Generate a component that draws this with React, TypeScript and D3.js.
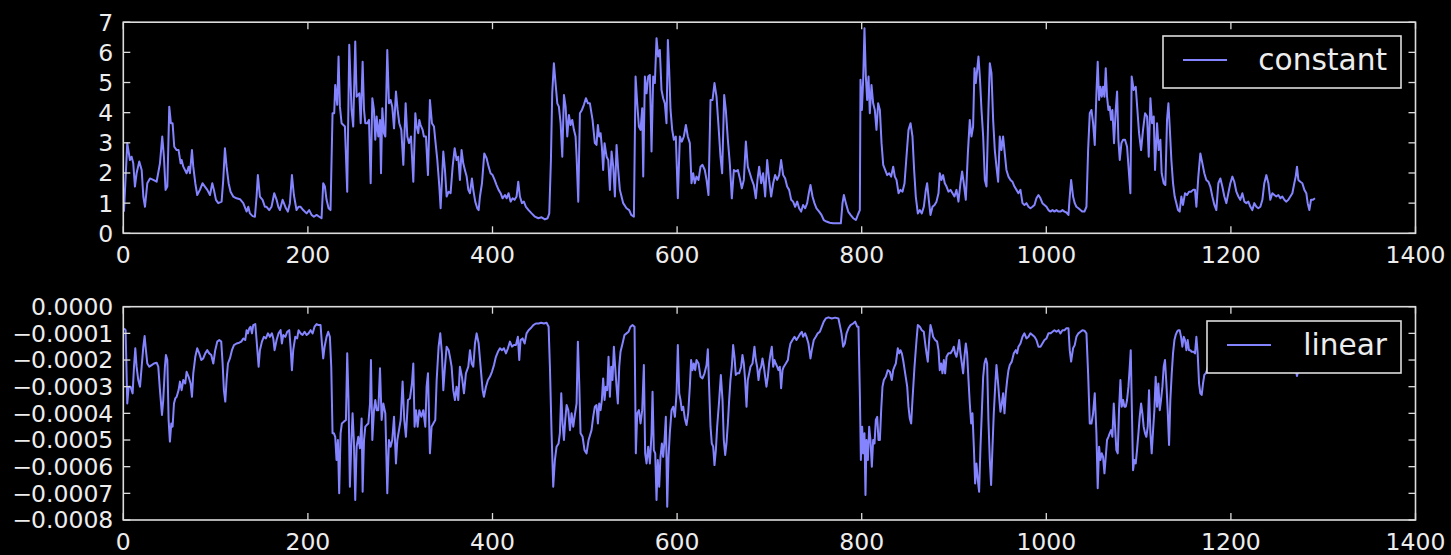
import React, { useEffect } from "react";
import * as d3 from "d3";

// ---- data -------------------------------------------------------------
const xTicks = [0, 200, 400, 600, 800, 1000, 1200, 1400];
const constantTicks = [0, 1, 2, 3, 4, 5, 6, 7];
const linearTicks = [0, -1e-4, -2e-4, -3e-4, -4e-4, -5e-4, -6e-4, -7e-4, -8e-4];
const linearTickLabels = ["0.0000", "\u22120.0001", "\u22120.0002", "\u22120.0003", "\u22120.0004", "\u22120.0005", "\u22120.0006", "\u22120.0007", "\u22120.0008"];

const constantPoints: [number, number][] = [
  [0.7,0.72],[4.3,2.99],[7.2,2.43],[9.0,2.54],[10.8,2.32],[12.6,1.55],[14.4,1.99],[17.3,2.38],[19.9,2.10],[21.7,1.22],[23.5,0.88],[26.0,1.66],[28.9,1.82],[32.5,1.77],[36.1,1.71],[39.7,2.32],[42.2,3.21],[44.0,2.54],[45.8,1.44],[47.7,1.55],[49.8,4.20],[51.6,3.65],[53.4,3.65],[55.2,2.87],[57.8,2.76],[59.9,2.76],[62.1,2.32],[63.2,2.43],[65.0,2.21],[68.6,1.99],[70.8,2.21],[72.2,1.99],[74.4,2.76],[75.8,2.21],[78.0,1.66],[80.1,1.27],[83.0,1.44],[85.9,1.66],[88.4,1.55],[91.0,1.44],[93.9,1.27],[96.4,1.66],[98.2,1.44],[100.4,1.11],[102.9,1.00],[106.5,1.05],[108.3,1.77],[110.1,2.82],[111.9,2.21],[114.1,1.66],[116.2,1.38],[119.1,1.22],[122.7,1.16],[126.4,1.13],[130.0,1.00],[133.6,0.72],[135.4,0.88],[137.2,0.66],[140.1,0.57],[142.6,0.55],[144.4,1.22],[145.8,1.93],[148.0,1.22],[150.9,1.11],[153.4,0.88],[155.2,0.88],[158.1,0.77],[160.6,0.88],[163.5,1.33],[166.1,1.11],[167.9,0.88],[169.7,0.77],[172.6,1.11],[174.0,1.00],[176.2,0.83],[178.3,0.72],[180.5,1.00],[182.7,1.93],[184.8,1.27],[187.7,0.77],[189.9,0.88],[192.1,0.88],[194.9,0.77],[198.6,0.66],[201.4,0.77],[204.0,0.61],[206.5,0.55],[209.4,0.61],[212.3,0.55],[214.8,0.50],[216.6,1.66],[218.4,1.55],[220.2,1.11],[222.4,0.83],[224.5,0.77],[226.7,3.98],[228.5,3.98],[229.6,4.92],[231.8,4.26],[233.2,5.86],[234.7,4.20],[236.5,3.65],[240.1,3.54],[242.6,1.38],[244.8,6.25],[247.3,4.09],[249.1,3.54],[251.3,6.36],
  [252.8,4.53],[255.7,4.64],[257.2,3.65],[259.3,5.69],[260.8,4.09],[262.2,3.65],[264.4,3.65],[266.2,3.76],[268.0,1.66],[269.8,4.48],[271.6,4.09],[273.0,3.10],[274.5,3.87],[276.3,3.21],[278.1,3.76],[279.2,1.99],[280.6,4.15],[282.4,3.32],[283.9,3.21],[286.0,6.08],[287.8,4.31],[289.6,4.42],[291.4,4.20],[293.3,3.48],[295.4,4.70],[297.2,4.09],[299.0,3.65],[301.2,3.43],[303.4,2.27],[305.9,4.31],[307.7,3.21],[309.5,2.99],[311.7,3.21],[314.2,1.71],[316.4,3.98],[317.8,3.54],[319.6,3.32],[320.7,3.76],[322.1,3.59],[324.3,3.43],[325.7,3.21],[327.9,3.21],[330.1,1.93],[332.2,4.42],[334.4,3.65],[336.6,3.54],[338.0,3.10],[340.2,2.43],[342.4,1.55],[343.8,0.83],[346.7,2.71],[348.5,2.10],[350.3,1.22],[352.5,1.38],[354.6,1.33],[356.8,2.21],[359.0,2.82],[361.1,2.43],[362.9,2.54],[364.7,1.77],[366.5,2.76],[368.3,2.32],[370.1,2.10],[372.0,1.88],[373.8,1.44],[375.6,1.33],[377.7,1.82],[379.2,1.44],[381.3,1.05],[383.5,0.83],[385.0,0.77],[386.4,1.22],[388.6,1.66],[391.1,2.65],[393.6,2.49],[395.8,2.21],[397.9,1.99],[400.1,1.93],[402.3,1.77],[404.4,1.60],[406.6,1.44],[408.8,1.33],[410.9,1.16],[413.5,1.27],[415.3,1.16],[417.4,1.33],[419.6,1.05],[421.8,1.16],[423.9,1.11],[426.1,1.22],[427.9,1.71],[429.7,1.22],[431.9,1.00],[434.0,1.05],[436.2,0.88],[439.1,0.77],[442.4,0.66],[446.0,0.55],[449.6,0.50],[453.2,0.53],[456.8,0.46],[459.7,0.50],[461.5,0.66],[463.3,2.43],[464.7,4.64],[466.5,5.64],[468.3,4.98],[470.2,4.31],[471.9,4.20],[473.8,3.65],[475.6,2.54],[477.4,4.59],[479.2,4.20],[481.0,3.21],[482.8,3.92],[484.6,3.59],[486.4,3.76],[488.2,3.43],[490.0,3.21],[491.1,2.54],[492.9,1.05],[494.7,3.98],[496.9,4.09],[499.0,4.26],[501.2,4.48],[503.4,4.31],
  [505.5,4.31],[508.4,3.76],[510.9,2.99],[512.7,2.93],[514.2,3.59],[515.6,3.21],[517.1,3.32],[518.5,2.87],[519.9,2.10],[521.4,2.99],[523.6,2.54],[525.4,2.43],[527.2,1.44],[529.0,2.71],[530.8,2.21],[532.6,1.22],[534.4,2.93],[536.2,2.10],[538.0,1.44],[539.8,1.22],[541.6,1.00],[545.2,0.83],[548.1,0.77],[550.3,0.61],[553.2,0.55],[555.0,5.20],[556.8,4.31],[558.6,3.54],[560.4,3.43],[562.2,4.15],[563.3,1.88],[565.1,5.20],[566.9,4.64],[568.7,5.20],[570.5,5.25],[572.3,2.71],[574.1,5.20],[575.9,4.98],[577.7,6.47],[579.5,5.86],[581.3,6.08],[583.1,4.75],[584.9,4.48],[586.7,4.31],[588.5,3.65],[590.0,6.41],[591.4,5.42],[592.9,4.09],[594.7,3.43],[596.5,3.10],[598.6,3.21],[600.8,1.16],[603.0,3.21],[605.1,3.04],[607.3,3.21],[609.5,3.59],[611.6,3.21],[613.8,2.99],[615.6,1.66],[617.4,1.99],[619.2,1.66],[621.0,1.88],[623.2,1.77],[625.4,2.21],[627.5,2.27],[630.0,2.10],[631.9,1.77],[634.0,1.27],[636.2,4.42],[638.4,4.42],[640.5,4.98],[642.7,4.53],[644.9,3.54],[647.0,2.54],[648.8,1.99],[651.0,4.59],[652.8,4.09],[655.0,3.10],[657.1,2.32],[659.3,1.16],[661.5,2.10],[663.6,2.05],[665.8,2.10],[668.0,1.82],[670.1,1.49],[672.3,1.77],[674.5,3.04],[676.6,2.21],[678.8,1.99],[681.0,1.77],[683.1,1.60],[685.3,1.16],[687.1,1.77],[688.9,2.21],[691.1,1.66],[693.2,1.99],[695.4,1.22],[697.6,2.43],[699.7,1.77],[701.9,1.22],[704.1,1.66],[706.2,1.93],[708.4,1.77],[710.6,1.93],[712.7,2.43],[714.9,1.93],[717.1,1.82],[719.2,1.55],[721.4,1.44],[723.6,1.11],[725.7,1.05],[727.9,0.88],[730.1,1.05],[732.2,0.83],[734.4,0.72],[736.5,0.94],[738.7,0.83],[740.9,1.00],[743.0,1.38],[744.5,1.60],[746.7,1.22],[748.8,1.00],[751.0,0.83],[753.9,0.72],[756.4,0.61],[758.9,0.44],[761.8,0.39],[765.4,0.35],[769.0,0.33],
  [772.7,0.33],[777.4,0.33],[779.2,1.00],[780.7,1.27],[782.8,1.00],[785.4,0.72],[787.9,0.61],[790.8,0.50],[793.7,0.44],[796.2,0.64],[798.0,0.77],[798.7,5.09],[800.2,4.09],[801.6,5.09],[803.0,6.80],[804.5,5.20],[805.9,4.42],[807.4,5.20],[808.8,3.98],[810.6,4.92],[812.4,4.31],[814.2,4.09],[816.0,3.43],[817.8,4.31],[819.7,4.09],[821.5,2.99],[823.3,2.27],[825.4,2.10],[827.6,1.93],[829.8,1.99],[831.9,1.88],[834.1,2.21],[835.9,1.88],[837.7,1.77],[839.9,1.33],[842.0,1.44],[844.2,1.38],[846.4,1.66],[848.5,2.54],[850.7,3.43],[852.9,3.65],[855.0,3.21],[856.8,2.10],[858.6,1.22],[860.8,0.66],[863.0,0.77],[865.1,0.66],[867.3,0.88],[869.5,1.44],[870.9,1.66],[872.7,1.11],[874.5,0.61],[876.7,0.88],[878.9,0.94],[881.0,1.05],[883.2,1.33],[884.6,1.99],[886.4,1.77],[888.2,1.93],[890.0,1.66],[891.9,1.55],[894.0,1.38],[896.2,1.44],[898.4,1.33],[900.5,1.22],[902.7,1.44],[904.8,1.05],[907.0,1.66],[908.8,2.05],[910.6,1.66],[912.8,1.11],[915.0,2.65],[917.1,3.76],[918.9,3.21],[920.7,3.54],[922.2,5.47],[923.6,4.98],[925.1,5.42],[926.5,5.86],[928.0,5.20],[929.8,4.09],[931.6,3.21],[933.4,1.77],[935.2,1.55],[937.3,4.09],[938.8,5.64],[940.6,5.31],[942.4,3.76],[944.2,2.76],[946.0,2.21],[947.8,1.71],[949.6,3.21],[951.4,2.76],[953.2,3.21],[955.0,2.65],[956.8,2.10],[959.0,1.88],[961.2,1.77],[963.3,1.71],[965.5,1.55],[967.7,1.44],[969.8,1.33],[972.0,1.44],[974.2,1.00],[976.3,0.94],[978.5,1.00],[980.7,0.88],[982.8,0.83],[985.0,0.88],[987.2,0.94],[989.3,1.16],[991.5,1.27],[993.7,1.16],[995.8,1.00],[998.0,0.94],[1000.2,0.88],[1002.3,0.77],[1004.5,0.72],[1006.7,0.77],[1008.8,0.72],[1011.0,0.77],[1013.2,0.72],[1015.3,0.72],[1017.5,0.77],[1019.7,0.72],[1021.8,0.69],[1024.0,0.61],[1025.4,1.22],[1026.9,1.77],
  [1029.0,1.22],[1030.8,1.00],[1032.6,0.88],[1034.8,0.83],[1037.0,0.77],[1039.1,0.72],[1041.3,0.72],[1043.5,0.88],[1045.3,2.76],[1047.1,3.98],[1048.9,4.09],[1050.7,3.65],[1052.5,2.93],[1054.3,4.64],[1055.7,5.69],[1057.2,4.42],[1058.6,4.86],[1060.1,4.53],[1061.5,4.86],[1063.0,4.53],[1064.4,5.47],[1065.8,4.53],[1067.3,4.09],[1068.7,4.20],[1070.2,3.76],[1071.6,4.09],[1073.4,2.99],[1075.2,4.09],[1076.7,4.70],[1078.1,3.10],[1079.6,2.43],[1081.4,2.99],[1083.2,3.10],[1085.3,3.10],[1087.5,2.87],[1089.3,2.10],[1091.1,1.33],[1092.5,5.20],[1094.7,4.75],[1096.9,4.86],[1098.7,4.09],[1100.5,3.32],[1102.7,2.76],[1104.8,3.43],[1107.0,3.98],[1109.2,3.87],[1111.0,2.54],[1112.8,4.48],[1114.6,3.65],[1116.4,3.87],[1117.8,2.10],[1120.0,3.65],[1121.8,2.76],[1123.6,3.10],[1125.0,1.99],[1127.2,1.66],[1129.0,1.60],[1130.8,3.76],[1132.3,4.31],[1133.7,3.54],[1135.5,2.43],[1137.3,1.66],[1139.1,1.22],[1140.9,1.00],[1142.7,0.77],[1144.5,0.72],[1146.3,1.22],[1148.1,0.94],[1150.3,1.33],[1152.5,1.27],[1154.6,1.38],[1156.8,1.38],[1159.0,1.44],[1161.1,1.44],[1162.6,0.88],[1164.7,1.88],[1166.9,2.65],[1169.1,2.32],[1171.2,1.99],[1173.4,1.77],[1175.6,1.71],[1177.7,1.55],[1179.9,1.22],[1182.1,0.94],[1184.2,0.77],[1186.4,1.66],[1188.6,1.82],[1190.7,1.55],[1192.9,1.22],[1195.1,1.00],[1197.2,1.33],[1199.4,1.66],[1201.6,1.88],[1203.7,1.71],[1205.9,1.38],[1208.1,1.22],[1210.2,1.11],[1212.4,1.33],[1214.6,1.05],[1216.7,1.00],[1218.9,1.05],[1221.1,0.88],[1223.2,0.77],[1225.4,1.00],[1227.6,0.88],[1229.7,0.83],[1231.9,0.88],[1234.1,1.11],[1236.2,1.66],[1238.4,1.93],[1240.6,1.66],[1242.7,1.11],[1244.9,1.33],[1247.1,1.27],[1249.2,1.22],[1251.4,1.27],[1253.6,1.16],[1255.7,1.22],[1257.9,1.11],[1260.1,1.05],[1262.2,1.11],[1264.4,1.22],[1266.6,1.33],[1268.7,1.66],[1270.2,1.88],[1271.6,2.21],[1273.1,1.77],[1275.2,1.71],[1277.4,1.66],[1279.6,1.44],[1281.7,1.33],[1283.2,1.00],[1285.0,0.77],[1286.8,1.11],[1289.0,1.11],[1291.1,1.16],
];

const linearPoints: [number, number][] = [
  [0.7,-0.81e-4],[2.5,-0.88e-4],[4.3,-3.63e-4],[5.8,-3.00e-4],[7.9,-3.00e-4],[10.1,-3.25e-4],[11.6,-2.25e-4],[13.0,-1.56e-4],[14.4,-2.25e-4],[16.2,-2.75e-4],[18.1,-3.00e-4],[19.9,-2.25e-4],[21.7,-1.50e-4],[23.1,-1.10e-4],[24.5,-1.63e-4],[26.0,-2.13e-4],[28.2,-2.25e-4],[30.7,-2.19e-4],[33.2,-2.13e-4],[36.1,-2.10e-4],[37.9,-2.25e-4],[39.7,-3.13e-4],[41.9,-4.06e-4],[43.3,-3.50e-4],[45.1,-2.25e-4],[46.2,-1.81e-4],[47.7,-2.00e-4],[49.1,-4.25e-4],[50.5,-5.06e-4],[52.0,-4.38e-4],[53.4,-4.50e-4],[54.9,-3.63e-4],[56.3,-3.44e-4],[57.8,-3.38e-4],[59.9,-3.13e-4],[61.4,-2.81e-4],[63.2,-3.13e-4],[65.0,-2.75e-4],[67.1,-2.88e-4],[68.6,-2.44e-4],[70.8,-2.63e-4],[72.9,-2.88e-4],[74.4,-3.38e-4],[75.8,-2.50e-4],[78.0,-1.88e-4],[80.1,-1.56e-4],[82.3,-1.75e-4],[84.5,-2.00e-4],[86.6,-1.94e-4],[88.8,-1.75e-4],[91.0,-1.63e-4],[93.1,-1.75e-4],[95.3,-1.81e-4],[97.5,-2.13e-4],[99.6,-1.63e-4],[101.8,-1.31e-4],[104.0,-1.25e-4],[106.1,-1.31e-4],[107.6,-2.13e-4],[109.0,-3.13e-4],[110.5,-3.56e-4],[111.9,-2.75e-4],[113.4,-2.13e-4],[115.5,-1.94e-4],[117.7,-1.63e-4],[119.9,-1.44e-4],[122.7,-1.38e-4],[125.6,-1.35e-4],[127.8,-1.31e-4],[130.0,-1.19e-4],[132.1,-1.25e-4],[133.6,-0.88e-4],[135.0,-1.00e-4],[136.5,-0.81e-4],[137.9,-0.75e-4],[139.4,-1.00e-4],[140.8,-0.69e-4],[143.0,-0.65e-4],[144.4,-1.25e-4],[146.6,-2.25e-4],[148.0,-1.63e-4],[150.2,-1.31e-4],[152.3,-1.13e-4],[154.5,-1.19e-4],[156.7,-1.00e-4],[158.8,-1.13e-4],[161.0,-1.00e-4],[162.5,-1.19e-4],[163.9,-1.63e-4],[166.1,-1.25e-4],[168.2,-1.00e-4],[170.4,-0.88e-4],[171.8,-1.38e-4],[173.3,-1.06e-4],[175.5,-1.13e-4],[177.6,-0.94e-4],[179.8,-0.88e-4],[181.2,-1.50e-4],[182.7,-2.38e-4],[184.1,-1.63e-4],[186.3,-1.13e-4],[188.4,-1.19e-4],[189.9,-0.88e-4],[192.1,-1.00e-4],[194.2,-1.06e-4],[196.4,-0.94e-4],[198.6,-1.06e-4],[200.7,-1.00e-4],[202.9,-0.88e-4],[205.1,-1.00e-4],[207.2,-0.75e-4],[209.4,-0.65e-4],[211.6,-0.69e-4],[213.7,-0.69e-4],[215.2,-1.38e-4],[216.6,-1.94e-4],[218.1,-1.50e-4],[220.2,-1.13e-4],[222.0,-0.94e-4],[223.8,-1.13e-4],[225.3,-2.25e-4],[226.7,-4.75e-4],[228.2,-4.75e-4],[229.6,-4.88e-4],[231.0,-5.75e-4],[232.5,-5.00e-4],[233.9,-7.00e-4],[235.4,-4.75e-4],[236.8,-4.38e-4],[239.0,-4.31e-4],[241.2,-4.25e-4],[242.6,-1.75e-4],[244.0,-3.50e-4],[245.5,-6.75e-4],[246.9,-5.25e-4],[248.4,-4.00e-4],[249.8,-5.00e-4],[251.3,-7.25e-4],
  [252.8,-5.25e-4],[254.6,-4.88e-4],[256.4,-5.31e-4],[258.2,-4.19e-4],[259.3,-6.94e-4],[260.8,-5.00e-4],[262.2,-4.50e-4],[263.7,-4.44e-4],[265.5,-4.38e-4],[267.3,-3.63e-4],[268.3,-2.00e-4],[269.8,-5.00e-4],[271.6,-3.88e-4],[273.0,-3.50e-4],[274.5,-3.88e-4],[276.3,-3.88e-4],[278.1,-2.31e-4],[279.9,-4.25e-4],[281.7,-3.63e-4],[283.9,-4.00e-4],[286.0,-7.00e-4],[287.8,-5.00e-4],[289.6,-5.25e-4],[291.4,-5.00e-4],[293.3,-4.13e-4],[295.4,-5.88e-4],[296.9,-5.00e-4],[298.7,-4.63e-4],[300.5,-4.25e-4],[302.6,-2.81e-4],[304.4,-4.25e-4],[306.2,-4.88e-4],[308.4,-3.50e-4],[310.6,-3.44e-4],[312.7,-2.88e-4],[314.2,-2.13e-4],[315.6,-4.50e-4],[317.1,-3.88e-4],[318.9,-4.50e-4],[320.7,-3.88e-4],[322.9,-4.13e-4],[325.0,-3.88e-4],[327.2,-4.50e-4],[328.6,-3.00e-4],[330.1,-2.50e-4],[332.2,-5.50e-4],[334.0,-4.50e-4],[335.9,-4.38e-4],[338.0,-4.25e-4],[339.5,-2.75e-4],[341.6,-1.50e-4],[343.4,-1.00e-4],[345.2,-1.75e-4],[346.7,-3.13e-4],[348.5,-2.25e-4],[350.3,-1.50e-4],[352.5,-1.63e-4],[353.9,-1.88e-4],[355.7,-2.25e-4],[357.5,-3.13e-4],[359.3,-3.50e-4],[361.1,-3.00e-4],[362.9,-3.50e-4],[364.7,-2.25e-4],[366.9,-2.63e-4],[369.1,-3.25e-4],[371.2,-2.50e-4],[373.8,-2.25e-4],[375.6,-1.63e-4],[377.4,-2.13e-4],[379.2,-2.25e-4],[381.0,-1.38e-4],[382.8,-1.00e-4],[385.0,-1.38e-4],[387.1,-2.25e-4],[389.3,-3.13e-4],[390.7,-3.38e-4],[392.9,-3.00e-4],[395.1,-2.75e-4],[397.2,-2.63e-4],[399.4,-2.44e-4],[401.6,-2.19e-4],[403.7,-1.88e-4],[405.9,-1.69e-4],[408.1,-1.56e-4],[410.2,-1.63e-4],[412.4,-1.56e-4],[414.6,-1.75e-4],[416.7,-1.56e-4],[418.9,-1.31e-4],[421.1,-1.50e-4],[423.2,-1.44e-4],[425.4,-1.44e-4],[427.5,-1.13e-4],[429.0,-2.00e-4],[430.4,-1.25e-4],[432.6,-1.19e-4],[434.8,-1.38e-4],[436.9,-1.00e-4],[439.1,-0.88e-4],[441.3,-0.81e-4],[444.2,-0.69e-4],[447.0,-0.63e-4],[449.9,-0.63e-4],[452.8,-0.60e-4],[455.7,-0.63e-4],[458.6,-0.60e-4],[460.8,-0.75e-4],[462.2,-2.25e-4],[464.0,-4.75e-4],[465.8,-6.75e-4],[467.6,-5.75e-4],[469.4,-5.25e-4],[471.6,-5.13e-4],[473.0,-4.75e-4],[474.5,-3.25e-4],[475.9,-4.38e-4],[477.4,-5.00e-4],[478.8,-4.25e-4],[480.3,-3.69e-4],[482.1,-3.88e-4],[483.9,-4.63e-4],[485.7,-4.00e-4],[487.5,-4.50e-4],[488.9,-4.13e-4],[491.1,-3.63e-4],[492.5,-1.31e-4],[494.0,-2.88e-4],[495.4,-4.75e-4],[497.6,-4.88e-4],[499.7,-5.38e-4],[501.9,-5.50e-4],[504.1,-5.00e-4],
  [507.3,-4.63e-4],[509.1,-4.13e-4],[510.9,-3.75e-4],[512.7,-3.69e-4],[514.2,-4.38e-4],[515.6,-3.63e-4],[517.1,-3.88e-4],[518.5,-3.50e-4],[519.9,-2.69e-4],[521.4,-3.50e-4],[522.8,-3.00e-4],[524.3,-3.13e-4],[525.7,-1.88e-4],[527.2,-3.38e-4],[528.6,-2.25e-4],[530.0,-2.75e-4],[531.5,-1.50e-4],[532.9,-2.25e-4],[534.4,-3.00e-4],[535.8,-3.63e-4],[537.3,-2.25e-4],[538.7,-1.69e-4],[540.9,-1.38e-4],[543.0,-1.06e-4],[545.2,-1.00e-4],[547.4,-0.94e-4],[549.5,-0.75e-4],[551.7,-0.69e-4],[553.9,-0.75e-4],[555.3,-5.50e-4],[556.8,-4.00e-4],[558.6,-3.88e-4],[560.4,-4.38e-4],[562.2,-3.88e-4],[564.0,-2.19e-4],[565.4,-5.50e-4],[566.9,-5.88e-4],[568.7,-5.25e-4],[570.5,-5.88e-4],[572.3,-4.75e-4],[573.4,-3.19e-4],[574.8,-5.38e-4],[576.3,-5.50e-4],[577.7,-7.25e-4],[579.1,-5.75e-4],[580.6,-6.75e-4],[582.0,-5.63e-4],[583.5,-5.13e-4],[584.9,-5.63e-4],[586.4,-5.00e-4],[587.8,-4.13e-4],[589.3,-7.50e-4],[590.7,-5.63e-4],[592.1,-4.75e-4],[594.0,-3.88e-4],[595.8,-3.75e-4],[597.6,-4.13e-4],[599.4,-3.25e-4],[600.8,-1.44e-4],[602.3,-3.25e-4],[603.7,-3.50e-4],[605.1,-3.88e-4],[606.6,-3.75e-4],[608.4,-4.19e-4],[610.2,-4.44e-4],[612.0,-4.00e-4],[613.8,-3.00e-4],[615.2,-2.00e-4],[616.7,-2.38e-4],[618.1,-2.13e-4],[619.6,-2.38e-4],[621.0,-2.00e-4],[623.2,-2.13e-4],[625.4,-2.63e-4],[627.5,-2.69e-4],[629.7,-2.50e-4],[631.9,-2.19e-4],[633.3,-1.60e-4],[634.7,-3.00e-4],[636.2,-4.50e-4],[637.6,-5.13e-4],[639.1,-5.25e-4],[640.5,-5.94e-4],[642.0,-5.38e-4],[643.4,-4.50e-4],[645.6,-3.50e-4],[647.4,-2.56e-4],[649.2,-3.50e-4],[650.6,-5.00e-4],[652.1,-5.56e-4],[653.5,-5.13e-4],[655.0,-4.38e-4],[656.4,-3.50e-4],[657.8,-2.75e-4],[659.3,-2.25e-4],[660.7,-1.44e-4],[662.2,-1.88e-4],[663.6,-2.56e-4],[665.1,-2.50e-4],[667.2,-2.50e-4],[669.4,-2.25e-4],[670.8,-1.81e-4],[672.3,-2.13e-4],[673.7,-2.75e-4],[675.2,-3.75e-4],[676.6,-2.75e-4],[678.1,-2.50e-4],[679.5,-2.25e-4],[681.7,-2.13e-4],[683.8,-1.50e-4],[685.3,-2.00e-4],[686.7,-2.25e-4],[688.2,-2.75e-4],[689.6,-2.38e-4],[691.1,-2.25e-4],[692.5,-1.94e-4],[694.0,-2.25e-4],[695.4,-2.63e-4],[696.8,-3.00e-4],[698.3,-2.63e-4],[699.7,-2.13e-4],[701.2,-1.75e-4],[702.6,-1.50e-4],[704.1,-2.25e-4],[705.5,-2.00e-4],[706.9,-2.13e-4],[708.4,-2.25e-4],[709.8,-2.38e-4],[711.3,-2.25e-4],[712.7,-3.06e-4],[714.2,-2.38e-4],[715.6,-2.25e-4],[717.8,-2.13e-4],[720.0,-2.00e-4],[721.4,-1.63e-4],[722.8,-1.38e-4],[725.0,-1.25e-4],[727.2,-1.13e-4],[729.3,-1.25e-4],[731.5,-1.13e-4],[733.7,-1.00e-4],[735.1,-0.94e-4],[736.5,-1.13e-4],[738.7,-1.00e-4],[740.2,-1.13e-4],[742.3,-1.38e-4],[744.5,-1.94e-4],[745.9,-1.63e-4],[748.1,-1.25e-4],[750.3,-1.13e-4],[752.4,-1.00e-4],[754.6,-0.94e-4],[756.8,-0.75e-4],[758.9,-0.56e-4],[761.1,-0.44e-4],[764.0,-0.40e-4],[767.6,-0.44e-4],[771.2,-0.41e-4],[774.8,-0.44e-4],
  [778.1,-1.00e-4],[779.9,-1.50e-4],[781.7,-1.38e-4],[783.6,-1.00e-4],[785.7,-0.81e-4],[787.9,-0.69e-4],[790.8,-0.63e-4],[792.9,-0.56e-4],[795.1,-0.75e-4],[796.5,-0.75e-4],[798.0,-3.25e-4],[799.1,-5.75e-4],[800.5,-4.50e-4],[801.6,-5.50e-4],[803.0,-4.75e-4],[804.1,-7.06e-4],[805.2,-5.00e-4],[806.7,-5.75e-4],[808.1,-4.50e-4],[809.5,-5.00e-4],[811.0,-6.00e-4],[812.4,-5.00e-4],[813.9,-5.13e-4],[815.3,-4.25e-4],[816.8,-4.13e-4],[818.2,-5.00e-4],[819.7,-5.00e-4],[821.1,-3.88e-4],[822.5,-3.00e-4],[824.0,-2.75e-4],[826.1,-2.63e-4],[828.3,-2.38e-4],[830.5,-2.44e-4],[832.6,-2.75e-4],[834.1,-2.38e-4],[835.5,-2.25e-4],[837.0,-2.13e-4],[839.1,-1.56e-4],[840.6,-1.75e-4],[842.0,-1.63e-4],[843.5,-1.75e-4],[844.9,-2.00e-4],[847.1,-2.50e-4],[849.3,-3.00e-4],[850.7,-3.75e-4],[852.1,-4.19e-4],[853.6,-4.38e-4],[855.0,-3.50e-4],[857.2,-2.25e-4],[859.4,-1.25e-4],[860.8,-0.69e-4],[863.0,-0.75e-4],[865.1,-0.88e-4],[867.3,-0.94e-4],[868.8,-1.38e-4],[870.2,-1.75e-4],[871.6,-2.06e-4],[873.1,-1.25e-4],[874.5,-0.69e-4],[876.0,-0.88e-4],[877.4,-1.13e-4],[879.6,-1.25e-4],[881.7,-1.31e-4],[883.2,-1.63e-4],[884.6,-2.38e-4],[886.1,-2.13e-4],[887.5,-2.50e-4],[889.0,-2.00e-4],[890.4,-2.50e-4],[891.9,-1.88e-4],[894.0,-1.75e-4],[896.2,-1.75e-4],[898.4,-1.63e-4],[899.8,-1.50e-4],[901.2,-1.75e-4],[902.7,-1.88e-4],[904.1,-1.63e-4],[905.6,-1.25e-4],[907.0,-1.75e-4],[908.5,-2.13e-4],[909.9,-2.50e-4],[911.3,-1.88e-4],[912.8,-1.38e-4],[914.2,-1.75e-4],[915.7,-2.75e-4],[917.1,-3.63e-4],[918.6,-4.38e-4],[920.0,-4.00e-4],[921.5,-5.25e-4],[922.9,-6.63e-4],[924.3,-5.88e-4],[925.8,-6.50e-4],[927.2,-6.94e-4],[928.7,-5.25e-4],[930.1,-4.00e-4],[931.6,-2.63e-4],[933.0,-2.13e-4],[934.5,-1.94e-4],[935.9,-2.13e-4],[937.3,-4.25e-4],[938.8,-5.75e-4],[940.2,-6.69e-4],[941.7,-5.25e-4],[943.1,-4.00e-4],[944.6,-3.00e-4],[946.0,-2.19e-4],[947.5,-2.75e-4],[948.9,-3.38e-4],[950.3,-3.94e-4],[951.8,-3.63e-4],[953.2,-3.25e-4],[954.7,-4.00e-4],[956.1,-3.25e-4],[957.6,-2.75e-4],[959.0,-2.38e-4],[960.4,-2.19e-4],[962.6,-2.06e-4],[964.8,-1.75e-4],[966.9,-1.63e-4],[968.4,-1.75e-4],[969.8,-1.50e-4],[972.0,-1.38e-4],[974.2,-1.13e-4],[976.3,-1.00e-4],[978.5,-1.19e-4],[980.7,-1.13e-4],[982.8,-1.00e-4],[985.0,-1.06e-4],[987.2,-1.13e-4],[989.3,-1.25e-4],[991.5,-1.50e-4],[993.7,-1.50e-4],[995.8,-1.38e-4],[998.0,-1.25e-4],[1000.2,-1.19e-4],[1002.3,-1.00e-4],[1004.5,-1.00e-4],[1006.7,-0.94e-4],[1008.8,-0.88e-4],[1011.0,-0.94e-4],[1013.2,-0.88e-4],[1015.3,-1.00e-4],[1017.5,-0.88e-4],[1019.7,-0.88e-4],[1021.8,-0.81e-4],[1024.0,-0.81e-4],[1025.4,-1.63e-4],[1026.9,-2.06e-4],
  [1029.0,-1.56e-4],[1030.8,-1.44e-4],[1032.6,-1.13e-4],[1034.8,-1.00e-4],[1037.0,-0.94e-4],[1039.1,-0.88e-4],[1041.3,-0.90e-4],[1043.5,-1.00e-4],[1045.3,-2.50e-4],[1047.1,-4.38e-4],[1048.9,-4.38e-4],[1050.7,-4.00e-4],[1052.5,-3.25e-4],[1054.3,-4.75e-4],[1055.7,-6.81e-4],[1057.2,-5.25e-4],[1058.6,-5.75e-4],[1060.1,-5.50e-4],[1061.5,-5.63e-4],[1063.0,-6.25e-4],[1064.4,-5.63e-4],[1065.8,-5.00e-4],[1067.3,-4.88e-4],[1068.7,-4.75e-4],[1070.2,-4.63e-4],[1071.6,-4.88e-4],[1073.1,-3.63e-4],[1074.5,-4.50e-4],[1075.9,-5.38e-4],[1077.4,-5.50e-4],[1078.8,-3.88e-4],[1080.3,-2.75e-4],[1081.7,-3.75e-4],[1083.2,-3.50e-4],[1084.6,-3.75e-4],[1086.1,-3.75e-4],[1087.5,-3.50e-4],[1089.0,-3.00e-4],[1090.4,-2.25e-4],[1091.5,-1.63e-4],[1092.5,-3.50e-4],[1094.0,-6.13e-4],[1095.4,-5.75e-4],[1096.9,-5.88e-4],[1098.3,-5.38e-4],[1099.8,-4.75e-4],[1101.2,-4.13e-4],[1102.7,-3.63e-4],[1104.1,-4.00e-4],[1105.5,-4.50e-4],[1107.0,-4.75e-4],[1108.4,-4.88e-4],[1109.9,-4.50e-4],[1111.3,-3.13e-4],[1112.8,-4.75e-4],[1114.2,-5.50e-4],[1115.7,-4.63e-4],[1117.1,-3.88e-4],[1118.5,-2.63e-4],[1120.0,-3.75e-4],[1121.4,-2.88e-4],[1122.9,-3.88e-4],[1124.3,-3.50e-4],[1125.8,-3.00e-4],[1127.2,-2.25e-4],[1128.6,-2.00e-4],[1130.1,-2.88e-4],[1131.5,-3.88e-4],[1133.0,-5.19e-4],[1134.4,-3.50e-4],[1135.9,-2.50e-4],[1137.3,-1.75e-4],[1138.8,-1.25e-4],[1140.2,-1.06e-4],[1141.6,-0.94e-4],[1143.1,-0.88e-4],[1144.5,-0.88e-4],[1146.0,-1.13e-4],[1147.4,-1.50e-4],[1148.9,-1.13e-4],[1150.3,-1.25e-4],[1151.8,-1.63e-4],[1153.2,-1.25e-4],[1154.6,-1.63e-4],[1156.1,-1.63e-4],[1157.5,-1.69e-4],[1159.7,-1.69e-4],[1161.1,-1.75e-4],[1162.6,-1.13e-4],[1164.0,-1.75e-4],[1165.5,-2.88e-4],[1166.9,-3.25e-4],[1168.4,-3.31e-4],[1169.8,-2.88e-4],[1171.2,-2.56e-4],[1172.7,-2.50e-4],[1174.1,-2.38e-4],
  [1176.0,-2.10e-4],[1180.0,-1.60e-4],[1184.0,-1.10e-4],[1186.5,-2.00e-4],[1191.0,-1.90e-4],[1195.0,-1.30e-4],[1199.5,-2.00e-4],[1201.6,-2.20e-4],[1206.0,-1.70e-4],[1210.0,-1.40e-4],[1215.0,-1.30e-4],[1219.0,-1.30e-4],[1223.0,-1.00e-4],[1227.6,-1.10e-4],[1234.0,-1.40e-4],[1238.4,-2.30e-4],[1242.7,-1.40e-4],[1249.0,-1.50e-4],[1256.0,-1.50e-4],[1262.0,-1.40e-4],[1266.6,-1.70e-4],[1271.6,-2.60e-4],[1275.0,-2.10e-4],[1280.0,-1.80e-4],[1285.0,-1.00e-4],[1289.0,-1.40e-4],[1291.1,-1.45e-4],
];

// ---- layout -----------------------------------------------------------
const W = 1451;
const H = 555;
const LEFT = 123.3;
const RIGHT = 1415.5;
const LINE_COLOR = "#8484ff";
const FRAME_COLOR = "#dcdcdc";
const TEXT_COLOR = "#ededed";
const FONT = "'DejaVu Sans', sans-serif";
const TICK_FONT = 23.5;
const LEGEND_FONT = 29.6;
const TICK_LEN = 7;
const LABEL_PAD = 10;
// width of "0.0000" in DejaVu Sans, in em
const NUMBER_EM = 3.498;

type Panel = {
  id: string;
  top: number;
  bottom: number;
  domain: [number, number];
  ticks: number[];
  labels: string[];
  points: [number, number][];
  legend: { label: string; x0: number; x1: number; y0: number; y1: number };
};

const panels: Panel[] = [
  {
    id: "constant",
    top: 22.2,
    bottom: 233.3,
    domain: [0, 7],
    ticks: constantTicks,
    labels: constantTicks.map(String),
    points: constantPoints,
    legend: { label: "constant", x0: 1163, x1: 1401, y0: 36, y1: 88 },
  },
  {
    id: "linear",
    top: 306.7,
    bottom: 520,
    domain: [-8e-4, 0],
    ticks: linearTicks,
    labels: linearTickLabels,
    points: linearPoints,
    legend: { label: "linear", x0: 1207, x1: 1401, y0: 321, y1: 373 },
  },
];

const x = d3.scaleLinear().domain([0, 1400]).range([LEFT, RIGHT]);

function YLabel({ label, yPos }: { label: string; yPos: number }) {
  const neg = label.startsWith("\u2212");
  const body = neg ? label.slice(1) : label;
  const right = LEFT - LABEL_PAD;
  const common = {
    y: yPos,
    dy: "0.36em",
    textAnchor: "end" as const,
    fill: TEXT_COLOR,
    fontSize: TICK_FONT,
    fontFamily: FONT,
  };
  return (
    <g>
      <text x={right} {...common}>
        {body}
      </text>
      {neg && (
        <text x={right - NUMBER_EM * TICK_FONT + 1} {...common}>
          {"\u2212"}
        </text>
      )}
    </g>
  );
}

function PanelView({ p }: { p: Panel }) {
  const y = d3.scaleLinear().domain(p.domain).range([p.bottom, p.top]);
  const line = d3
    .line<[number, number]>()
    .x((d) => x(d[0]))
    .y((d) => y(d[1]));
  const lg = p.legend;
  const midY = (lg.y0 + lg.y1) / 2;
  return (
    <g>
      <defs>
        <clipPath id={`clip-${p.id}`}>
          <rect x={LEFT} y={p.top} width={RIGHT - LEFT} height={p.bottom - p.top} />
        </clipPath>
      </defs>
      <path
        d={line(p.points) || ""}
        fill="none"
        stroke={LINE_COLOR}
        strokeWidth={2}
        strokeLinejoin="round"
        clipPath={`url(#clip-${p.id})`}
      />
      {/* ticks, pointing inwards on all four sides */}
      {xTicks.map((t) => (
        <g key={`xt${t}`} stroke={FRAME_COLOR} strokeWidth={1.3}>
          <line x1={x(t)} x2={x(t)} y1={p.bottom} y2={p.bottom - TICK_LEN} />
          <line x1={x(t)} x2={x(t)} y1={p.top} y2={p.top + TICK_LEN} />
        </g>
      ))}
      {p.ticks.map((t) => (
        <g key={`yt${t}`} stroke={FRAME_COLOR} strokeWidth={1.3}>
          <line x1={LEFT} x2={LEFT + TICK_LEN} y1={y(t)} y2={y(t)} />
          <line x1={RIGHT} x2={RIGHT - TICK_LEN} y1={y(t)} y2={y(t)} />
        </g>
      ))}
      <rect
        x={LEFT}
        y={p.top}
        width={RIGHT - LEFT}
        height={p.bottom - p.top}
        fill="none"
        stroke={FRAME_COLOR}
        strokeWidth={1.6}
      />
      {/* tick labels */}
      {xTicks.map((t) => (
        <text
          key={`xl${t}`}
          x={x(t)}
          y={p.bottom + 30}
          textAnchor="middle"
          fill={TEXT_COLOR}
          fontSize={TICK_FONT}
          fontFamily={FONT}
        >
          {String(t)}
        </text>
      ))}
      {p.ticks.map((t, i) => (
        <YLabel key={`yl${t}`} label={p.labels[i]} yPos={y(t)} />
      ))}
      {/* legend */}
      <rect
        x={lg.x0}
        y={lg.y0}
        width={lg.x1 - lg.x0}
        height={lg.y1 - lg.y0}
        fill="#000"
        stroke={FRAME_COLOR}
        strokeWidth={1.6}
      />
      <line
        x1={lg.x0 + 20}
        x2={lg.x0 + 64}
        y1={midY - 2}
        y2={midY - 2}
        stroke={LINE_COLOR}
        strokeWidth={2}
      />
      <text
        x={lg.x1 - 14}
        y={midY + 8}
        textAnchor="end"
        fill={TEXT_COLOR}
        fontSize={LEGEND_FONT}
        fontFamily={FONT}
      >
        {lg.label}
      </text>
    </g>
  );
}

export default function App() {
  useEffect(() => {
    document.body.style.margin = "0";
    document.body.style.background = "#000";
  }, []);
  return (
    <svg width={W} height={H} style={{ display: "block", background: "#000" }}>
      <rect x={0} y={0} width={W} height={H} fill="#000" />
      {panels.map((p) => (
        <PanelView key={p.id} p={p} />
      ))}
    </svg>
  );
}
